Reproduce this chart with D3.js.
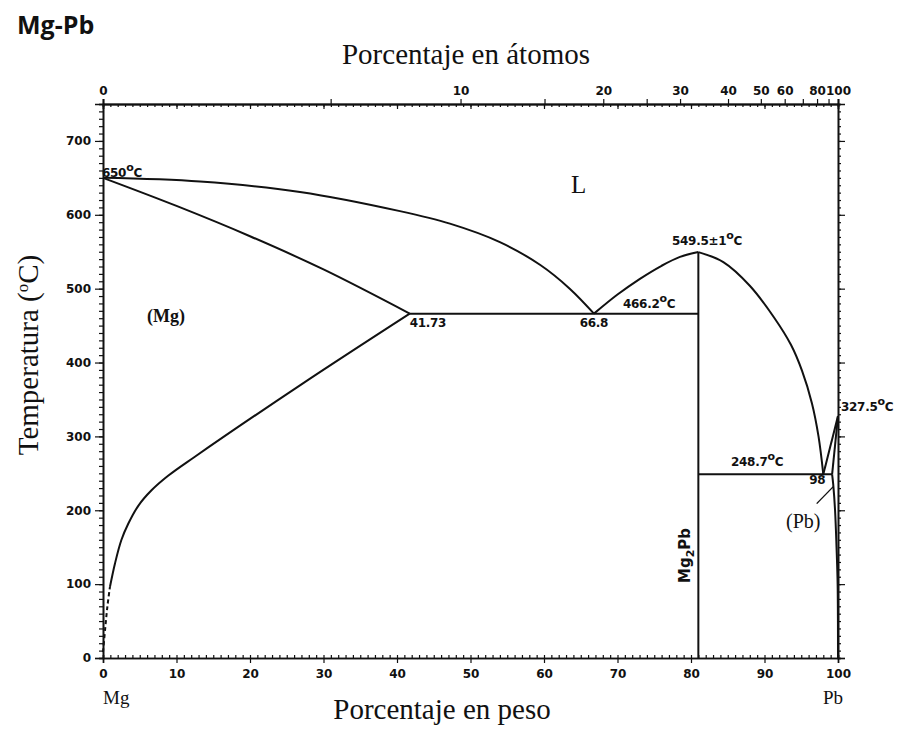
<!DOCTYPE html>
<html>
<head>
<meta charset="utf-8">
<script src="https://cdn.jsdelivr.net/npm/d3@7"></script>
<style>
  body { margin: 0; background: #fff; }
  svg { display: block; }
  text { fill: #111; }
  .tick text { font-family: "DejaVu Sans", sans-serif; font-weight: bold; font-size: 12px; fill: #111; }
  .domain, .tick line { stroke: #111; }
</style>
</head>
<body>
<svg id="chart" width="901" height="729"></svg>
<script>
// ---- phase boundary data: [wt% Pb, temperature °C] ----
const liquidusMg = [[0,650],[13.2,645],[26.8,631],[40.4,605],[47.2,588],[54,563],[59.5,532],[63.5,500],[66.8,466.2]];
const solidusMg  = [[0,650],[10,612],[20,571],[30,526],[41.73,466.2]];
const solvusMg   = [[0.95,96.5],[1.63,128],[2.5,159.7],[3.45,182],[4.8,206],[6.6,227],[8.9,247],[12.5,272.5],[27,370.5],[41.73,466.2]];
const solvusMgDashed = [[0,8],[0.3,40],[0.6,70],[0.95,96.5]];
const liquidusMg2PbLeft  = [[66.8,466.2],[70,492],[73,513],[76,531],[78.5,543],[81,549.5]];
const liquidusMg2PbRight = [[81,549.5],[84.4,536],[88,504],[91.3,461],[93.6,424],[95.1,389],[96.45,345],[97.35,300],[98,248.7]];
const liquidusPb = [[98,248.7],[100,327.5]];
const solidusPb  = [[100,327.5],[99.2,248.7]];
const solvusPb   = [[99.2,248.7],[99.35,235],[99.6,200],[99.8,150],[99.95,100],[100,0]];
const pbPointer  = [[97.1,209],[99.36,232]];

// invariant lines
const mg2pbComp = 81;          // Mg2Pb line composition, wt% Pb
const mg2pbMelt = 549.5;       // congruent melting point
const eutectics = [
  { T: 466.2, from: 41.73, to: 81 },
  { T: 248.7, from: 81, to: 99.2 }
];

// axis ticks
const wtTicks = [0,10,20,30,40,50,60,70,80,90,100];
const tempTicks = [0,100,200,300,400,500,600,700];
const atLabelTicks = [0,10,20,30,40,50,60,80,100];
const atExtraTicks = [5,15,25,70,90];

// atomic % Pb -> weight % Pb
const M_PB = 207.2, M_MG = 24.305;
const atToWt = a => 100 * a * M_PB / (a * M_PB + (100 - a) * M_MG);

const svg = d3.select("#chart");
const x = d3.scaleLinear().domain([0, 100]).range([103, 838]);
const y = d3.scaleLinear().domain([0, 750]).range([658, 104]);
const fmt = v => String(v);

// ---- axes ----
// bottom: weight %
svg.append("g").attr("transform", `translate(0,${y(0)})`)
  .call(d3.axisBottom(x).tickValues(d3.range(0, 101, 1)).tickSize(-3).tickFormat(""));
svg.append("g").attr("transform", `translate(0,${y(0)})`)
  .call(d3.axisBottom(x).tickValues(wtTicks).tickSize(5).tickPadding(6).tickFormat(fmt));

// top: weight % ticks inside, atomic % ticks outside
svg.append("g").attr("transform", `translate(0,${y(750)})`)
  .call(d3.axisTop(x).tickValues(d3.range(0, 101, 1)).tickSize(-3).tickFormat(""));
svg.append("g").attr("transform", `translate(0,${y(750)})`)
  .call(d3.axisTop(x).tickValues(wtTicks).tickSize(-5).tickFormat(""));
svg.append("g").attr("transform", `translate(0,${y(750)})`)
  .call(d3.axisTop(x).tickValues(atExtraTicks.map(atToWt)).tickSize(5).tickFormat(""));
svg.append("g").attr("transform", `translate(0,${y(750)})`)
  .call(d3.axisTop(x).tickValues(atLabelTicks.map(atToWt)).tickSize(5).tickPadding(4)
    .tickFormat((d, i) => String(atLabelTicks[i])));

// left: temperature
svg.append("g").attr("transform", `translate(${x(0)},0)`)
  .call(d3.axisLeft(y).tickValues(d3.range(0, 751, 10)).tickSize(4).tickFormat(""));
svg.append("g").attr("transform", `translate(${x(0)},0)`)
  .call(d3.axisLeft(y).tickValues(tempTicks).tickSize(8).tickPadding(4).tickFormat(fmt));

// right: temperature ticks only
svg.append("g").attr("transform", `translate(${x(100)},0)`)
  .call(d3.axisRight(y).tickValues(d3.range(0, 751, 10)).tickSize(3).tickFormat(""));
svg.append("g").attr("transform", `translate(${x(100)},0)`)
  .call(d3.axisRight(y).tickValues(tempTicks).tickSize(7).tickFormat(""));

svg.selectAll(".domain").attr("stroke-width", 1.6);
svg.selectAll(".tick line").attr("stroke-width", 1.2);

// ---- phase boundaries ----
const smooth = d3.line().x(d => x(d[0])).y(d => y(d[1])).curve(d3.curveCatmullRom.alpha(0.5));
const straight = d3.line().x(d => x(d[0])).y(d => y(d[1]));
const plot = svg.append("g").attr("fill", "none").attr("stroke", "#111").attr("stroke-width", 2);

[liquidusMg, solidusMg, solvusMg, liquidusMg2PbLeft, liquidusMg2PbRight, solvusPb].forEach(d =>
  plot.append("path").attr("d", smooth(d)));
[liquidusPb, solidusPb].forEach(d => plot.append("path").attr("d", straight(d)));
plot.append("path").attr("d", smooth(solvusMgDashed)).attr("stroke-dasharray", "4,3");
plot.append("path").attr("d", straight(pbPointer)).attr("stroke-width", 1.4);

// Mg2Pb compound line
plot.append("line")
  .attr("x1", x(mg2pbComp)).attr("x2", x(mg2pbComp))
  .attr("y1", y(mg2pbMelt)).attr("y2", y(0));

// eutectic horizontals
plot.selectAll(".eut").data(eutectics).join("line")
  .attr("x1", d => x(d.from)).attr("x2", d => x(d.to))
  .attr("y1", d => y(d.T)).attr("y2", d => y(d.T));

// ---- text ----
const sans = "'DejaVu Sans', sans-serif";
const serif = "'Liberation Serif', 'Times New Roman', serif";

svg.append("text").attr("x", 17).attr("y", 34)
  .attr("font-family", "'Open Sans', sans-serif").attr("font-weight", "bold")
  .attr("font-size", 25).text("Mg-Pb");

svg.append("text").attr("x", 466).attr("y", 64).attr("text-anchor", "middle")
  .attr("font-family", serif).attr("font-size", 29).text("Porcentaje en átomos");

svg.append("text").attr("x", 442).attr("y", 719).attr("text-anchor", "middle")
  .attr("font-family", serif).attr("font-size", 29).text("Porcentaje en peso");

const yt = svg.append("text").attr("transform", "translate(38,355) rotate(-90)")
  .attr("text-anchor", "middle").attr("font-family", serif).attr("font-size", 29);
yt.append("tspan").text("Temperatura (");
yt.append("tspan").attr("font-size", 17).attr("dy", -10).text("o");
yt.append("tspan").attr("dy", 10).text("C)");

svg.append("text").attr("x", x(0)).attr("y", 704).attr("font-family", serif)
  .attr("font-size", 19).text("Mg");
svg.append("text").attr("x", x(100) - 15).attr("y", 704).attr("font-family", serif)
  .attr("font-size", 19).text("Pb");

svg.append("text").attr("x", 571).attr("y", 193).attr("font-family", serif)
  .attr("font-size", 25).text("L");
svg.append("text").attr("x", 147).attr("y", 322).attr("font-family", serif)
  .attr("font-weight", "bold").attr("font-size", 18).text("(Mg)");
svg.append("text").attr("x", 786).attr("y", 528).attr("font-family", serif)
  .attr("font-size", 20).text("(Pb)");

// temperature labels with a raised degree "o"
function degLabel(px, py, value, suffix) {
  const t = svg.append("text").attr("x", px).attr("y", py)
    .attr("font-family", sans).attr("font-weight", "bold").attr("font-size", 12)
    .attr("letter-spacing", -0.3);
  t.append("tspan").text(value + (suffix || ""));
  t.append("tspan").attr("dy", -6).attr("font-size", 11).text("o");
  t.append("tspan").attr("dy", 6).text("C");
}
degLabel(x(0) - 1, 177, "650");
degLabel(672, 245, "549.5", "±1");
degLabel(623, 308, "466.2");
degLabel(731, 466, "248.7");
degLabel(x(100) + 3, 411, "327.5");

function numLabel(px, py, s, anchor) {
  svg.append("text").attr("x", px).attr("y", py).attr("text-anchor", anchor || "start")
    .attr("font-family", sans).attr("font-weight", "bold").attr("font-size", 12)
    .attr("letter-spacing", -0.3).text(s);
}
numLabel(x(41.73), 327, "41.73");
numLabel(x(66.8), 327, "66.8", "middle");
numLabel(x(98) - 14, 484, "98");

// Mg2Pb vertical label
const cl = svg.append("text").attr("transform", `translate(${x(mg2pbComp) - 8},583) rotate(-90)`)
  .attr("font-family", sans).attr("font-weight", "bold").attr("font-size", 15);
cl.append("tspan").text("Mg");
cl.append("tspan").attr("dy", 4).attr("font-size", 11).text("2");
cl.append("tspan").attr("dy", -4).text("Pb");
</script>
</body>
</html>
